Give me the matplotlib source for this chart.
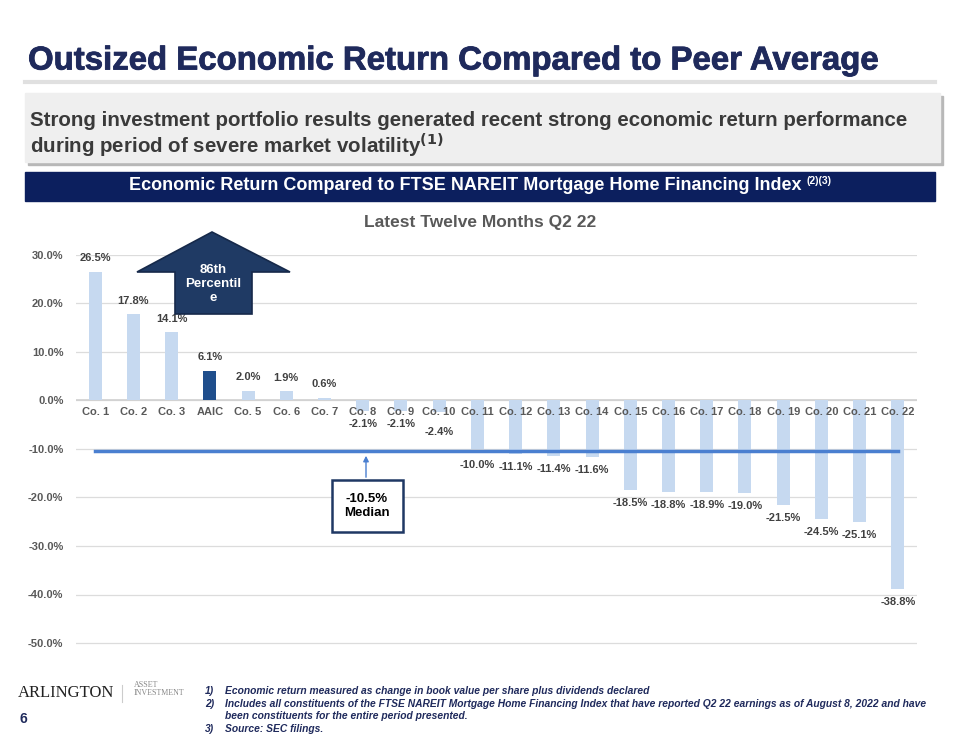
import matplotlib
matplotlib.use("Agg")
import matplotlib.pyplot as plt
from matplotlib.patches import Rectangle, Polygon, FancyArrowPatch
from matplotlib.lines import Line2D
import matplotlib.patheffects as pe

plt.rcParams['font.family'] = ['Liberation Sans', 'DejaVu Sans']

# ---------------- data ----------------
companies = ["Co. 1", "Co. 2", "Co. 3", "AAIC", "Co. 5", "Co. 6", "Co. 7", "Co. 8", "Co. 9",
             "Co. 10", "Co. 11", "Co. 12", "Co. 13", "Co. 14", "Co. 15", "Co. 16", "Co. 17",
             "Co. 18", "Co. 19", "Co. 20", "Co. 21", "Co. 22"]
returns = [26.5, 17.8, 14.1, 6.1, 2.0, 1.9, 0.6, -2.1, -2.1, -2.4, -10.0, -11.1, -11.4, -11.6,
           -18.5, -18.8, -18.9, -19.0, -21.5, -24.5, -25.1, -38.8]
median_value = -10.5
highlight = "AAIC"
y_ticks = [30, 20, 10, 0, -10, -20, -30, -40, -50]
percentile_label = "86th\nPercentil\ne"

W, H = 960, 741
fig = plt.figure(figsize=(W / 100, H / 100), dpi=100)
fig.patch.set_facecolor("white")

def fx(x):
    return x / W

def fy(y):
    return 1 - y / H

renderer = fig.canvas.get_renderer()

def fit(t, width_px):
    bb = t.get_window_extent(renderer=renderer)
    t.set_fontsize(t.get_fontsize() * width_px / bb.width)

NAVY = "#1f2a5c"

# ---------------- header ----------------
t = fig.text(fx(28), fy(61), "Outsized Economic Return Compared to Peer Average",
             fontsize=24, fontweight="bold", color=NAVY, va="center", ha="left")
fit(t, 852)
t.set_path_effects([pe.withStroke(linewidth=0.6, foreground=NAVY)])
fig.add_artist(Line2D([fx(25), fx(935)], [fy(82), fy(82)], color="#e0e0e0", lw=3))

# gray box with shadow
fig.add_artist(Rectangle((fx(28), fy(165)), fx(915), (69) / H, color="#b8b8b8", zorder=1))
fig.add_artist(Rectangle((fx(25), fy(162)), fx(915), (69) / H, color="#efefef", zorder=2))
t1 = fig.text(fx(30), fy(121), "Strong investment portfolio results generated recent strong economic return performance",
              fontsize=14, fontweight="bold", color="#3a3a3a", va="center", ha="left", zorder=3)
fit(t1, 883)
fig.text(fx(30), fy(145), r"during period of severe market volatility$^{\mathbf{(1)}}$",
         fontsize=t1.get_fontsize(), fontweight="bold", color="#3a3a3a", va="center", ha="left", zorder=3)

# navy band
fig.add_artist(Rectangle((fx(25), fy(201)), fx(910), 29 / H, color="#0c1f5e", zorder=2))
t2 = fig.text(fx(480), fy(186), "Economic Return Compared to FTSE NAREIT Mortgage Home Financing Index ",
              fontsize=11.5, fontweight="bold", color="white", va="center", ha="center", zorder=3)
fit(t2, 680)
bb2 = t2.get_window_extent(renderer=renderer)
shift = 12
t2.set_position((fx(480 - shift), fy(186)))
fig.text(fx(480 - shift) + bb2.width / 2 / W, fy(181), "(2)(3)", fontsize=7.5, fontweight="bold",
         color="white", va="center", ha="left", zorder=3)

fig.text(fx(480), fy(222), "Latest Twelve Months Q2 22", fontsize=12.5, fontweight="bold",
         color="#595959", va="center", ha="center")

# ---------------- chart ----------------
ppu = (643 - 255) / 80.0
ax = fig.add_axes([fx(76), fy(643 + 0.6 * ppu), (917 - 76) / W, (643 - 255 + 0.6 * ppu) / H])
x = list(range(len(companies)))
colors = ["#1f4e8c" if c == highlight else "#c6d9f0" for c in companies]
ax.bar(x, returns, width=0.34, color=colors, zorder=2)
ax.set_xlim(-0.5, len(companies) - 0.5)
ax.set_ylim(-50.6, 30)
ax.set_yticks(y_ticks)
ax.set_yticklabels([f"{v:.1f}%" for v in y_ticks], fontsize=8, fontweight="bold", color="#595959")
ax.tick_params(axis="y", length=0, pad=9)
ax.set_xticks([])
for s in ax.spines.values():
    s.set_visible(False)
ax.grid(axis="y", color="#dcdcdc", lw=0.9, zorder=0)
ax.set_axisbelow(True)
ax.axhline(0, color="#d0d0d0", lw=1.2, zorder=1)

PX = 72 / 100  # points per pixel
for i, (c, v) in enumerate(zip(companies, returns)):
    ax.annotate(c, (i, 0), xytext=(0, -12 * PX), textcoords="offset points", ha="center", va="center",
                fontsize=8, fontweight="bold", color="#595959", zorder=4)
    if v >= 0:
        ax.annotate(f"{v:.1f}%", (i, v), xytext=(0, 13.5 * PX), textcoords="offset points",
                    ha="center", va="center", fontsize=8, fontweight="bold", color="#404040",
                    annotation_clip=False)
    else:
        off = 13
        if c == "Co. 10":
            off = 20
        elif c == "Co. 11":
            off = 16.5
        ax.annotate(f"{v:.1f}%", (i, v), xytext=(0, -off * PX), textcoords="offset points",
                    ha="center", va="center", fontsize=8, fontweight="bold", color="#404040",
                    annotation_clip=False)

# median line
ax.plot([0, len(companies) - 1], [median_value, median_value], color="#4a7fd0", lw=2.5, zorder=3)

# median callout
fig.add_artist(FancyArrowPatch((fx(366), fy(480)), (fx(366), fy(453)), arrowstyle="-|>",
                               mutation_scale=8, color="#4a7fd0", lw=1, zorder=5))
fig.add_artist(Rectangle((fx(332), fy(532)), 71 / W, 52 / H, facecolor="white",
                         edgecolor="#1f3864", lw=1.8, zorder=5))
fig.text(fx(367), fy(506), f"{median_value:.1f}%\nMedian", fontsize=9.5, fontweight="bold",
         color="black", ha="center", va="center", linespacing=1.3, zorder=6)

# percentile arrow
pts = [(137, 272), (212, 232), (290, 272), (252, 272), (252, 314), (175, 314), (175, 272)]
fig.add_artist(Polygon([(fx(a), fy(b)) for a, b in pts], closed=True, facecolor="#1f3a64",
                       edgecolor="#16294a", lw=1.2, zorder=5))
fig.text(fx(213), fy(284), percentile_label, fontsize=9.5, fontweight="bold", color="white",
         ha="center", va="center", linespacing=1.25, zorder=6)

# ---------------- footer ----------------
fig.text(fx(18), fy(693), "ARLINGTON", family=["Liberation Serif", "DejaVu Serif"], fontsize=12,
         color="#222222", ha="left", va="center")
fig.add_artist(Line2D([fx(122), fx(122)], [fy(685), fy(702)], color="#cccccc", lw=0.8))
fig.text(fx(134), fy(689), "ASSET\nINVESTMENT", family=["Liberation Serif", "DejaVu Serif"], fontsize=5.8,
         color="#888888", ha="left", va="center", linespacing=1.0)
fig.text(fx(20), fy(719), "6", fontsize=10, fontweight="bold", color=NAVY, ha="left", va="center")

notes = [("1)", "Economic return measured as change in book value per share plus dividends declared", 691),
         ("2)", "Includes all constituents of the FTSE NAREIT Mortgage Home Financing Index that have reported Q2 22 earnings as of August 8, 2022 and have", 704),
         ("", "been constituents for the entire period presented.", 716),
         ("3)", "Source: SEC filings.", 729)]
probe = fig.text(0, 0, notes[1][1], fontsize=7, style="italic", fontweight="bold")
fit(probe, 702)
note_fs = probe.get_fontsize()
probe.remove()
for num, txt, yy in notes:
    if num:
        fig.text(fx(205), fy(yy), num, fontsize=note_fs, style="italic", fontweight="bold",
                 color=NAVY, ha="left", va="center")
    fig.text(fx(225), fy(yy), txt, fontsize=note_fs, style="italic", fontweight="bold",
             color=NAVY, ha="left", va="center")

fig.savefig("out.png", dpi=100, facecolor="white")
